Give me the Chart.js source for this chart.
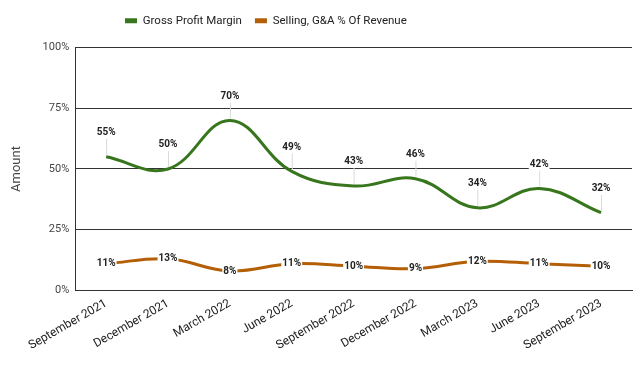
<!DOCTYPE html>
<html lang="en">
<head>
<meta charset="UTF-8">
<title>Gross Profit Margin vs SG&A</title>
<style>
  html, body { margin: 0; padding: 0; background: #fff; }
  #wrap { width: 640px; height: 381px; }
</style>
<script src="https://cdn.jsdelivr.net/npm/chart.js"></script>
</head>
<body>
<div id="wrap"><canvas id="chart"></canvas></div>
<script>
const quarters = ['September 2021', 'December 2021', 'March 2022', 'June 2022', 'September 2022',
                  'December 2022', 'March 2023', 'June 2023', 'September 2023'];
const grossMargin = [55, 50, 70, 49, 43, 46, 34, 42, 32];
const sgaPct = [11, 13, 8, 11, 10, 9, 12, 11, 10];
const yTicks = [0, 25, 50, 75, 100];

// draws the % labels: green ones above the point with a thin leader, orange ones on the line
const pointLabels = {
  id: 'pointLabels',
  afterDatasetsDraw(chart) {
    const ctx = chart.ctx;
    ctx.save();
    ctx.font = 'bold 10px Roboto';
    ctx.textAlign = 'center';
    ctx.textBaseline = 'middle';
    chart.data.datasets.forEach((ds, i) => {
      const meta = chart.getDatasetMeta(i);
      meta.data.forEach((pt, j) => {
        const txt = ds.data[j] + '%';
        const w = ctx.measureText(txt).width + 2;
        let y = pt.y;
        if (i === 0) {
          y = pt.y - 24;
          ctx.strokeStyle = '#d9d9d9';
          ctx.lineWidth = 1;
          ctx.beginPath();
          ctx.moveTo(pt.x + 0.5, pt.y - 2);
          ctx.lineTo(pt.x + 0.5, y + 6);
          ctx.stroke();
        }
        ctx.fillStyle = '#fff';
        ctx.fillRect(pt.x - w / 2, y - 6, w, 12);
        ctx.fillStyle = '#222';
        ctx.fillText(txt, pt.x, y);
      });
    });
    ctx.restore();
  }
};

// legend sits a bit left of centre and higher up in the original
const moveLegend = {
  id: 'moveLegend',
  afterLayout(chart) {
    const lg = chart.legend;
    lg.left = 112;
    lg.top -= 11;
    lg.bottom -= 11;
  }
};

new Chart(document.getElementById('chart'), {
  type: 'line',
  data: {
    labels: quarters,
    datasets: [{
      label: 'Gross Profit Margin',
      data: grossMargin,
      borderColor: '#38761d',
      backgroundColor: '#38761d',
      borderWidth: 3,
      tension: 0.4,
      pointRadius: 0
    }, {
      label: 'Selling, G&A % Of Revenue',
      data: sgaPct,
      borderColor: '#b45f06',
      backgroundColor: '#b45f06',
      borderWidth: 3,
      tension: 0.4,
      pointRadius: 0
    }]
  },
  options: {
    responsive: true,
    maintainAspectRatio: false,
    animation: false,
    layout: { padding: { top: 13, right: 8, bottom: 22, left: 5 } },
    plugins: {
      legend: {
        position: 'top',
        align: 'start',
        labels: {
          font: { family: 'Roboto', size: 11.5 },
          color: '#222',
          boxWidth: 12,
          boxHeight: 5,
          padding: 13,
          generateLabels(chart) {
            return Chart.defaults.plugins.legend.labels.generateLabels(chart).map(l => {
              l.lineWidth = 0;
              return l;
            });
          }
        }
      },
      tooltip: { enabled: false }
    },
    scales: {
      x: {
        offset: true,
        grid: { display: false, drawTicks: false },
        border: { color: '#333', width: 1 },
        ticks: {
          font: { family: 'Roboto', size: 12 },
          color: '#222',
          minRotation: 30,
          maxRotation: 30,
          padding: 6
        }
      },
      y: {
        min: 0,
        max: 100,
        afterBuildTicks(axis) { axis.ticks = yTicks.map(v => ({ value: v })); },
        grid: { color: '#333', lineWidth: 1, drawTicks: false },
        border: { color: '#333', width: 1 },
        ticks: {
          font: { family: 'Roboto', size: 11 },
          color: '#444',
          padding: 6,
          callback: v => v + '%'
        },
        title: {
          display: true,
          text: 'Amount',
          font: { family: 'Roboto', size: 13 },
          color: '#444',
          padding: { bottom: 12 }
        }
      }
    }
  },
  plugins: [pointLabels, moveLegend]
});
</script>
</body>
</html>
